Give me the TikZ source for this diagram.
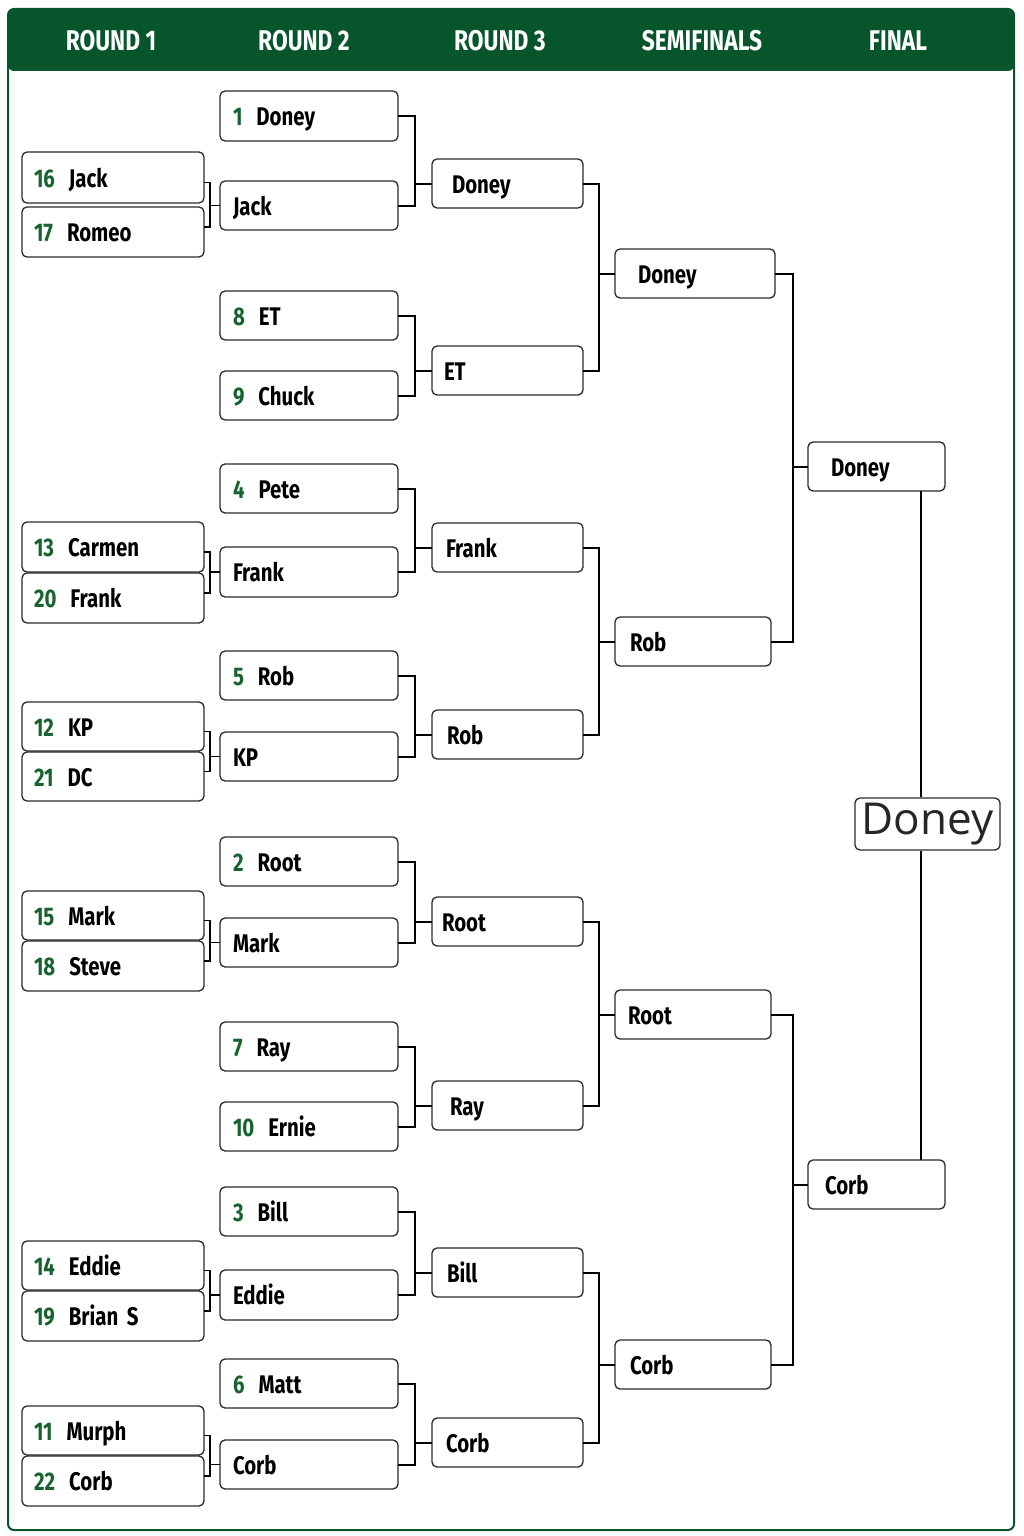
\documentclass[tikz,border=0pt]{standalone}
\usepackage{fontspec}
\newfontfamily\cond{Fira Sans}[FakeStretch=0.8]
\newfontfamily\champfont{Open Sans}
\definecolor{hdrgreen}{HTML}{07552B}
\definecolor{seedgreen}{HTML}{17632F}
\definecolor{boxline}{HTML}{2A2A2A}
\newcommand\sd[2]{\textcolor{seedgreen}{#1}\hspace{14pt}#2}
\newcommand\bx[7][13]{%
  \pgfmathsetmacro\bw{#5-#3}%
  \pgfmathsetmacro\bh{#6-#4}%
  \pgfmathsetmacro\tw{#5-#3-2*#1}%
  \node[box,inner xsep=#1pt,minimum width=\bw pt,minimum height=\bh pt,text width=\tw pt] (#2) at ({(#3+#5)/2},{(#4+#6)/2}) {#7};}
\begin{document}
\begin{tikzpicture}[x=1pt,y=-1pt,
  box/.style={draw=boxline,line width=1.3pt,rounded corners=5pt,fill=white,align=left,
    inner ysep=0pt,outer sep=0pt,text height=22pt,text depth=2.5pt,
    font=\cond\bfseries\fontsize{25.5}{30}\selectfont},
  conn/.style={draw=black,line width=2pt},
  hdr/.style={text=white,font=\cond\bfseries\fontsize{28.5}{34}\selectfont,inner sep=0pt}]
\useasboundingbox (0,0) rectangle (1024,1536);
% frame and header
\path[fill=hdrgreen,rounded corners=6pt] (8,71) -- (8,9) -- (1014,9) -- (1014,71) -- cycle;
\draw[draw=hdrgreen,line width=2pt,rounded corners=6pt] (8,9) rectangle (1014,1530);
\node[hdr] (h1) at (111,41) {ROUND 1};
\node[hdr] (h2) at (304,41) {ROUND 2};
\node[hdr] (h3) at (500,41) {ROUND 3};
\node[hdr] (h4) at (702,41) {SEMIFINALS};
\node[hdr] (h5) at (898,41) {FINAL};
% junction coordinates
\coordinate (j1) at (210,0);
\coordinate (j2) at (415,0);
\coordinate (j3) at (599,0);
\coordinate (j4) at (793,0);
\coordinate (cx) at (921,0);
% round 1
\bx[12]{a1}{22}{152}{204}{203}{\sd{16}{Jack}}
\bx[12]{a2}{22}{207}{204}{257}{\sd{17}{Romeo}}
\bx[12]{a3}{22}{522}{204}{572}{\sd{13}{Carmen}}
\bx[12]{a4}{22}{573}{204}{623}{\sd{20}{Frank}}
\bx[12]{a5}{22}{702}{204}{751}{\sd{12}{KP}}
\bx[12]{a6}{22}{752}{204}{801}{\sd{21}{DC}}
\bx[12]{a7}{22}{891}{204}{940}{\sd{15}{Mark}}
\bx[12]{a8}{22}{941}{204}{991}{\sd{18}{Steve}}
\bx[12]{a9}{22}{1241}{204}{1290}{\sd{14}{Eddie}}
\bx[12]{a10}{22}{1291}{204}{1341}{\sd{19}{Brian S}}
\bx[12]{a11}{22}{1406}{204}{1455}{\sd{11}{Murph}}
\bx[12]{a12}{22}{1456}{204}{1506}{\sd{22}{Corb}}
% round 2
\bx[13]{b1}{220}{91}{398}{141}{\sd{1}{Doney}}
\bx[13]{b2}{220}{181}{398}{230}{Jack}
\bx[13]{b3}{220}{291}{398}{340}{\sd{8}{ET}}
\bx[13]{b4}{220}{371}{398}{420}{\sd{9}{Chuck}}
\bx[13]{b5}{220}{464}{398}{513}{\sd{4}{Pete}}
\bx[13]{b6}{220}{547}{398}{597}{Frank}
\bx[13]{b7}{220}{651}{398}{700}{\sd{5}{Rob}}
\bx[13]{b8}{220}{732}{398}{781}{KP}
\bx[13]{b9}{220}{837}{398}{886}{\sd{2}{Root}}
\bx[13]{b10}{220}{918}{398}{967}{Mark}
\bx[13]{b11}{220}{1022}{398}{1071}{\sd{7}{Ray}}
\bx[13]{b12}{220}{1102}{398}{1151}{\sd{10}{Ernie}}
\bx[13]{b13}{220}{1187}{398}{1236}{\sd{3}{Bill}}
\bx[13]{b14}{220}{1270}{398}{1320}{Eddie}
\bx[13]{b15}{220}{1359}{398}{1408}{\sd{6}{Matt}}
\bx[13]{b16}{220}{1440}{398}{1489}{Corb}
% round 3
\bx[20]{c1}{432}{159}{583}{208}{Doney}
\bx[12]{c2}{432}{346}{583}{395}{ET}
\bx[14]{c3}{432}{523}{583}{572}{Frank}
\bx[15]{c4}{432}{710}{583}{759}{Rob}
\bx[10]{c5}{432}{897}{583}{946}{Root}
\bx[18]{c6}{432}{1081}{583}{1130}{Ray}
\bx[15]{c7}{432}{1248}{583}{1297}{Bill}
\bx[14]{c8}{432}{1418}{583}{1467}{Corb}
% semifinals
\bx[23]{d1}{615}{249}{775}{298}{Doney}
\bx[15]{d2}{615}{617}{771}{666}{Rob}
\bx[13]{d3}{615}{990}{771}{1039}{Root}
\bx[15]{d4}{615}{1340}{771}{1389}{Corb}
% final
\bx[23]{e1}{808}{442}{945}{491}{Doney}
\bx[17]{e2}{808}{1160}{945}{1209}{Corb}
% champion
\node[draw=boxline,line width=1.3pt,rounded corners=5pt,fill=white,inner sep=0pt,
  minimum width=145pt,minimum height=52pt,font=\champfont\fontsize{44}{50}\selectfont,text=black!85]
  (ch) at (927.5,824) {Doney};
% round 1 -> round 2 brackets
\foreach \t/\u/\w in {a1/a2/b2,a3/a4/b6,a5/a6/b8,a7/a8/b10,a9/a10/b14,a11/a12/b16}{
  \draw[conn,line width=1.6pt] ([yshift=-5pt]\t.east) -- ([yshift=-5pt]\t.east -| j1) -- ([yshift=5pt]\u.east -| j1) -- ([yshift=5pt]\u.east);
  \draw[conn,line width=1.6pt] (\w.west) -- (\w.west -| j1);
}
% round 2 -> round 3
\foreach \t/\u/\w in {b1/b2/c1,b3/b4/c2,b5/b6/c3,b7/b8/c4,b9/b10/c5,b11/b12/c6,b13/b14/c7,b15/b16/c8}{
  \draw[conn] (\t.east) -- (\t.east -| j2) -- (\u.east -| j2) -- (\u.east);
  \draw[conn] (\w.west) -- (\w.west -| j2);
}
% round 3 -> semifinals
\foreach \t/\u/\w in {c1/c2/d1,c3/c4/d2,c5/c6/d3,c7/c8/d4}{
  \draw[conn] (\t.east) -- (\t.east -| j3) -- (\u.east -| j3) -- (\u.east);
  \draw[conn] (\w.west) -- (\w.west -| j3);
}
% semifinals -> final
\foreach \t/\u/\w in {d1/d2/e1,d3/d4/e2}{
  \draw[conn] (\t.east) -- (\t.east -| j4) -- (\u.east -| j4) -- (\u.east);
  \draw[conn] (\w.west) -- (\w.west -| j4);
}
% final -> champion
\draw[conn] (e1.south -| cx) -- (ch.north -| cx);
\draw[conn] (ch.south -| cx) -- (e2.north -| cx);
\end{tikzpicture}
\end{document}
